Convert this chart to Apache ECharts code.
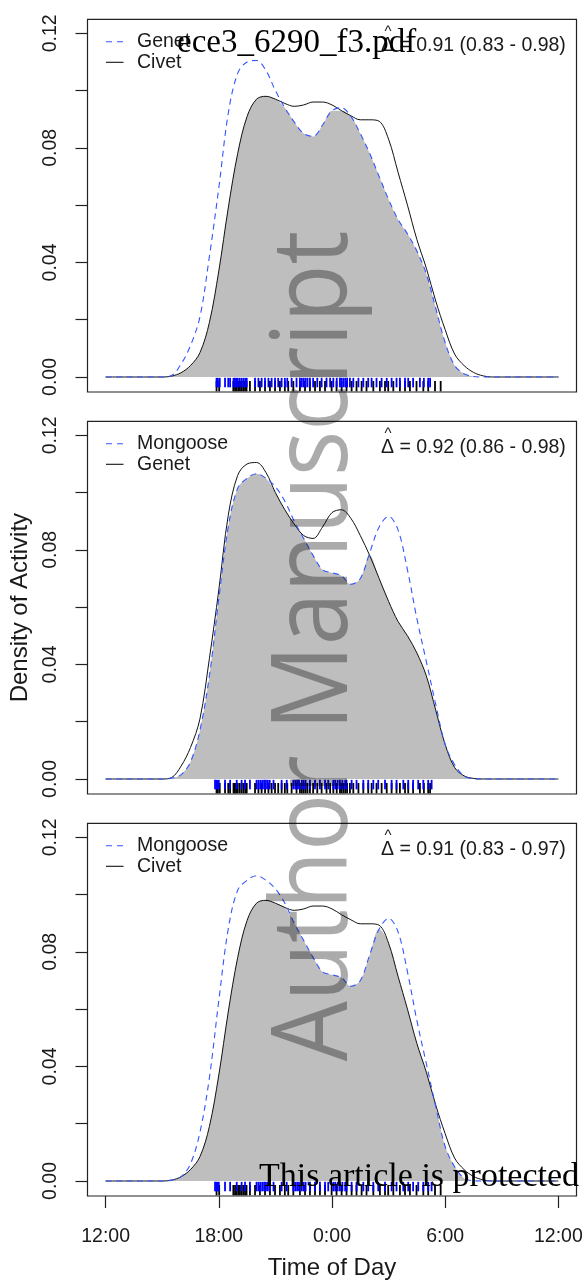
<!DOCTYPE html>
<html>
<head>
<meta charset="utf-8">
<script src="https://cdn.jsdelivr.net/npm/echarts@6.0.0/dist/echarts.min.js"></script>
<style>
  html, body { margin: 0; padding: 0; background: #fff; }
  #chart { width: 588px; height: 1281px; }
</style>
</head>
<body>
<div id="chart"></div>
<script>
// hours after 12:00 noon (0 = 12:00, 12 = midnight, 24 = next 12:00)
var hours = [0, 1, 2, 3, 3.5, 4, 4.5, 5, 5.5, 6, 6.5, 7, 7.5, 8, 8.5, 9, 9.5, 10, 10.5,
  11, 11.5, 12, 12.5, 13, 13.5, 14, 14.5, 15, 15.5, 16, 16.5, 17, 17.5, 18, 18.5,
  19, 19.5, 20, 20.5, 21, 22, 23, 24];

// activity density per species
var genet = [0, 0, 0, 0, 0.0005, 0.0045, 0.011, 0.021, 0.042, 0.066, 0.092, 0.106, 0.110,
  0.1105, 0.107, 0.100, 0.094, 0.089, 0.085, 0.084, 0.088, 0.093, 0.094, 0.091, 0.085,
  0.078, 0.070, 0.062, 0.055, 0.050, 0.044, 0.036, 0.024, 0.012, 0.004, 0.0011, 0.0002,
  0, 0, 0, 0, 0, 0];
var civet = [0, 0, 0, 0, 0.0003, 0.0015, 0.004, 0.0085, 0.019, 0.037, 0.059, 0.078, 0.091,
  0.097, 0.098, 0.097, 0.0955, 0.0945, 0.095, 0.096, 0.096, 0.095, 0.093, 0.0912, 0.0898,
  0.0898, 0.0893, 0.083, 0.0715, 0.060, 0.048, 0.038, 0.0265, 0.0165, 0.008, 0.004, 0.0016,
  0.0004, 0, 0, 0, 0, 0];
var mongoose = [0, 0, 0, 0, 0.0003, 0.0015, 0.006, 0.017, 0.036, 0.063, 0.088, 0.1015, 0.105,
  0.1066, 0.105, 0.102, 0.097, 0.090, 0.084, 0.078, 0.073, 0.072, 0.071, 0.068, 0.070,
  0.079, 0.088, 0.0917, 0.087, 0.073, 0.056, 0.041, 0.026, 0.012, 0.005, 0.001, 0.0001,
  0, 0, 0, 0, 0, 0];

// detection times (rug), hours after noon
var genetRug = [5.88, 5.95, 6.05, 6.33, 6.5, 6.6, 6.78, 6.85, 6.92, 7.0, 7.1, 7.2, 7.3, 7.4,
  7.48, 7.92, 8.1, 8.27, 8.45, 8.63, 8.8, 8.98, 9.15, 9.33, 9.5, 9.63, 9.86, 10.12, 10.3,
  10.4, 10.5, 10.6, 10.7, 10.83, 11.0, 11.22, 11.45, 11.71, 11.9, 12.07, 12.25, 12.42, 12.5,
  12.6, 12.7, 12.8, 12.95, 13.13, 13.4, 13.66, 13.92, 14.1, 14.36, 14.63, 14.9, 15.16,
  15.42, 15.6, 15.87, 16.04, 16.3, 16.66, 16.87, 17.1, 17.2];
var civetRug = [5.88, 6.02, 6.77, 6.86, 6.94, 7.03, 7.12, 7.21, 7.3, 7.39, 7.47, 7.65, 7.92,
  8.18, 8.45, 8.71, 8.98, 9.24, 9.5, 9.68, 9.95, 10.3, 10.57, 10.83, 11.1, 11.36, 11.63,
  11.98, 12.24, 12.51, 12.77, 13.04, 13.3, 13.57, 13.83, 14.19, 14.54, 14.81, 14.98, 15.25,
  15.6, 15.87, 16.13, 16.48, 16.84, 17.1, 17.46, 17.76];
var mongooseRug = [5.8, 5.86, 5.93, 6.0, 6.33, 6.6, 6.95, 7.21, 7.39, 7.65, 8.0, 8.1, 8.2,
  8.3, 8.4, 8.5, 8.6, 8.7, 8.9, 9.33, 9.6, 9.95, 10.05, 10.15, 10.25, 10.4, 10.5, 10.6,
  10.83, 11.1, 11.36, 11.63, 11.8, 12.07, 12.17, 12.3, 12.42, 12.55, 12.7, 12.77, 13.04,
  13.3, 13.66, 13.92, 14.19, 14.45, 14.81, 15.16, 15.42, 15.78, 16.04, 16.3, 16.57, 16.84,
  17.1, 17.28];

// panels: [dashed blue species, solid black species]
var panelPairs = [['Genet', 'Civet'], ['Mongoose', 'Genet'], ['Mongoose', 'Civet']];
var deltaHat = [0.91, 0.92, 0.91];
var deltaLow = [0.83, 0.86, 0.83];
var deltaHigh = [0.98, 0.98, 0.97];

var xTickValues = [0, 6, 12, 18, 24];
var xTickLabels = ['12:00', '18:00', '0:00', '6:00', '12:00'];
var yTickValues = [0, 0.02, 0.04, 0.06, 0.08, 0.10, 0.12];
var yLabelValues = [0, 0.04, 0.08, 0.12];

var dens = { Genet: genet, Civet: civet, Mongoose: mongoose };
var rugs = { Genet: genetRug, Civet: civetRug, Mongoose: mongooseRug };

var SANS = '"Liberation Sans", Arial, sans-serif';
var TXT = '#1a1a1a';
var BLUE = '#3355ff';
var GRID_TOP = [19.3, 421.3, 823.3];
var GRID_H = 372.7;
var Y_MIN = -0.00524, Y_MAX = 0.12489;

function rugItem(y0, y1, color) {
  return function (params, api) {
    var p0 = api.coord([api.value(0), y0]);
    var p1 = api.coord([api.value(0), y1]);
    return {
      type: 'line',
      shape: { x1: p0[0], y1: p0[1], x2: p1[0], y2: p1[1] },
      style: { stroke: color, lineWidth: 1.8 }
    };
  };
}

var grids = [], xAxes = [], yAxes = [], series = [], graphics = [];

panelPairs.forEach(function (pair, i) {
  var a = dens[pair[0]], b = dens[pair[1]];
  var top = GRID_TOP[i];

  grids.push({ left: 87.5, width: 489, top: top, height: GRID_H,
    show: true, borderColor: '#222', borderWidth: 1.2 });

  var last = i === panelPairs.length - 1;
  xAxes.push({
    gridIndex: i, type: 'value', min: -0.96, max: 24.96,
    show: last, position: 'bottom',
    axisLine: { show: false, onZero: false },
    splitLine: { show: false },
    axisTick: { show: true, inside: false, length: 12, customValues: xTickValues,
      lineStyle: { color: '#222', width: 1.2 } },
    axisLabel: { customValues: xTickValues, fontSize: 19.5, fontFamily: SANS, color: TXT, margin: 31,
      formatter: function (v) { return xTickLabels[xTickValues.indexOf(v)]; } },
    name: last ? 'Time of Day' : '',
    nameLocation: 'middle', nameGap: 60,
    nameTextStyle: { fontSize: 24, fontFamily: SANS, color: TXT }
  });

  yAxes.push({
    gridIndex: i, type: 'value', min: Y_MIN, max: Y_MAX, position: 'left',
    axisLine: { show: false, onZero: false },
    splitLine: { show: false },
    axisTick: { show: true, inside: false, length: 12, customValues: yTickValues,
      lineStyle: { color: '#222', width: 1.2 } },
    axisLabel: { customValues: yLabelValues, rotate: 90, fontSize: 19.5, fontFamily: SANS,
      color: TXT, margin: 27, formatter: function (v) { return v.toFixed(2); } },
    name: i === 1 ? 'Density of Activity' : '',
    nameLocation: 'middle', nameRotate: 90, nameGap: 54,
    nameTextStyle: { fontSize: 24, fontFamily: SANS, color: TXT }
  });

  var overlap = hours.map(function (h, k) { return [h, Math.min(a[k], b[k])]; });
  series.push({
    type: 'line', xAxisIndex: i, yAxisIndex: i, data: overlap, smooth: 0.35,
    symbol: 'none', silent: true, z: 1,
    lineStyle: { width: 0 }, areaStyle: { color: '#bebebe', opacity: 1 }
  });
  series.push({
    type: 'line', xAxisIndex: i, yAxisIndex: i, smooth: 0.35, symbol: 'none', silent: true, z: 3,
    data: hours.map(function (h, k) { return [h, b[k]]; }),
    lineStyle: { color: '#111', width: 1 }
  });
  series.push({
    type: 'line', xAxisIndex: i, yAxisIndex: i, smooth: 0.35, symbol: 'none', silent: true, z: 4,
    data: hours.map(function (h, k) { return [h, a[k]]; }),
    lineStyle: { color: BLUE, width: 1.1, type: [6, 4.5] }
  });
  series.push({
    type: 'custom', xAxisIndex: i, yAxisIndex: i, silent: true, z: 2,
    data: rugs[pair[1]].map(function (h) { return [h, 0]; }),
    renderItem: rugItem(-0.0014, -0.005, '#000')
  });
  series.push({
    type: 'custom', xAxisIndex: i, yAxisIndex: i, silent: true, z: 2,
    data: rugs[pair[0]].map(function (h) { return [h, 0]; }),
    renderItem: rugItem(-0.0003, -0.0036, '#0000ff')
  });

  // legend
  graphics.push({ type: 'line', shape: { x1: 106, y1: top + 22.4, x2: 123.5, y2: top + 22.4 },
    style: { stroke: BLUE, lineWidth: 1.1, lineDash: [6, 5] } });
  graphics.push({ type: 'line', shape: { x1: 106, y1: top + 43, x2: 123.5, y2: top + 43 },
    style: { stroke: '#111', lineWidth: 1.1 } });
  graphics.push({ type: 'text', x: 137, y: top + 22.4,
    style: { text: pair[0], fontSize: 19.5, fontFamily: SANS, fill: TXT, verticalAlign: 'middle' } });
  graphics.push({ type: 'text', x: 137, y: top + 43,
    style: { text: pair[1], fontSize: 19.5, fontFamily: SANS, fill: TXT, verticalAlign: 'middle' } });

  // overlap estimate
  graphics.push({ type: 'text', x: 381, y: top + 26,
    style: { text: '\u0394 = ' + deltaHat[i].toFixed(2) + ' (' + deltaLow[i].toFixed(2) + ' - ' +
      deltaHigh[i].toFixed(2) + ')', fontSize: 19.5, fontFamily: SANS, fill: TXT, verticalAlign: 'middle' } });
  graphics.push({ type: 'text', x: 388, y: top + 13,
    style: { text: '^', fontSize: 15, fontFamily: SANS, fill: TXT, align: 'center', verticalAlign: 'middle' } });
});

// manuscript overlay texts
graphics.push({ type: 'text', x: 317, y: 646, rotation: Math.PI / 2, scaleX: 0.887, z: 100,
  style: { text: 'Author Manuscript', fontSize: 107, fontFamily: '"Open Sans", sans-serif',
    fill: 'rgba(0,0,0,0.33)', align: 'center', verticalAlign: 'middle' } });
graphics.push({ type: 'text', x: 177, y: 43, z: 100,
  style: { text: 'ece3_6290_f3.pdf', fontSize: 33, fontFamily: '"Liberation Serif", serif',
    fill: '#000', verticalAlign: 'middle' } });
graphics.push({ type: 'text', x: 259, y: 1177, z: 100,
  style: { text: 'This article is protected', fontSize: 34, fontFamily: '"Liberation Serif", serif',
    fill: '#000', verticalAlign: 'middle' } });

var chart = echarts.init(document.getElementById('chart'));
chart.setOption({
  animation: false,
  backgroundColor: '#fff',
  grid: grids,
  xAxis: xAxes,
  yAxis: yAxes,
  series: series,
  graphic: graphics
});
</script>
</body>
</html>
